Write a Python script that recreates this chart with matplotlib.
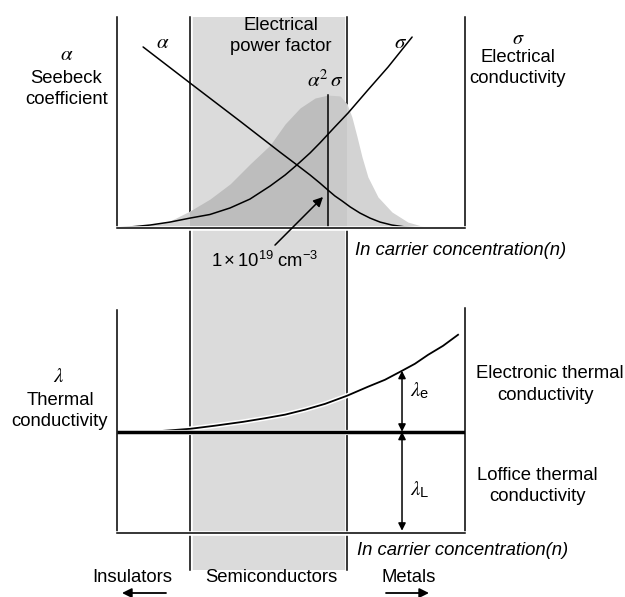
import numpy as np
import matplotlib
matplotlib.use('Agg')
import matplotlib.pyplot as plt
from matplotlib.patches import Rectangle
from matplotlib.lines import Line2D
import matplotlib.patheffects as pe
import matplotlib.transforms as mtrans

plt.rcParams['font.family'] = ['Liberation Sans', 'DejaVu Sans']
plt.rcParams['mathtext.fontset'] = 'stix'

# ---------------- data (ln n on an arbitrary 0-100 scale, property 0-100) ----------------
class_bounds = [21.0, 66.1]          # insulators | semiconductors | metals

alpha_n = [7.5, 21.0, 35.3, 46.8, 51.7, 55.5, 58.3, 60.6, 62.6, 64.7, 67.0, 69.8, 72.7, 75.6, 79.0, 82.8, 86.5]
alpha_v = [85.8, 68.7, 50.7, 36.0, 29.9, 25.1, 21.3, 18.0, 15.2, 12.8, 10.0, 7.1, 4.7, 2.8, 1.4, 0.5, 0.0]

sigma_n = [0.0, 5.2, 9.5, 15.2, 21.0, 26.7, 32.5, 38.2, 44.0, 48.3, 51.7, 55.5, 58.3, 62.6, 66.4, 72.1, 77.9, 84.8]
sigma_v = [0.0, 0.7, 1.4, 2.8, 4.7, 6.4, 9.5, 13.7, 19.9, 25.1, 29.9, 35.6, 40.3, 47.9, 54.5, 65.4, 76.3, 90.5]

pf_n = [2.3, 9.5, 15.2, 21.0, 26.7, 32.5, 38.2, 44.0, 48.3, 52.6, 56.9, 60.6, 64.1, 66.1, 67.5, 69.0,
        70.4, 72.1, 75.0, 79.0, 83.6, 88.5, 94.3]
pf_v = [0.0, 1.4, 3.3, 8.1, 13.7, 20.9, 30.3, 39.3, 49.3, 56.9, 61.6, 63.0, 62.6, 58.8, 52.6, 43.1,
        33.7, 24.2, 14.7, 7.6, 2.8, 0.5, 0.0]

lam_n = [3.7, 12.4, 21.0, 28.2, 36.2, 42.5, 48.3, 54.0, 59.8, 66.1, 72.1, 77.0, 81.9, 85.6, 89.4, 93.7, 98.0]
lam_e = [0.0, 0.3, 1.3, 2.7, 4.4, 6.0, 7.6, 9.8, 12.4, 16.0, 20.0, 23.1, 27.1, 30.2, 34.2, 38.2, 43.1]
lam_L = 45.0
n_arrow = 81.9                       # where lambda_e / lambda_L are marked
n_1e19 = 59.2                        # 1e19 cm^-3 pointer

# ---------------- figure ----------------
W, H = 625, 597
fig = plt.figure(figsize=(W / 100, H / 100), dpi=100)

bg = fig.add_axes([0, 0, 1, 1], zorder=0)
bg.set_xlim(0, W)
bg.set_ylim(H, 0)
bg.axis('off')

ax_top = fig.add_axes([117 / W, 1 - 228 / H, 348 / W, 211 / H], zorder=1)
ax_bot = fig.add_axes([117 / W, 1 - 533 / H, 348 / W, 225 / H], zorder=1)
for ax in (ax_top, ax_bot):
    ax.set_xlim(0, 100)
    ax.set_ylim(0, 100)
    ax.patch.set_alpha(0)
    ax.set_xticks([])
    ax.set_yticks([])
    for s in ax.spines.values():
        s.set_visible(False)


def halo(lw, extra=2.2):
    return [pe.Stroke(linewidth=lw + extra, foreground='white'), pe.Normal()]


LW = 1.1

# gray semiconductor band (x from data, y in pixels)
blend = mtrans.blended_transform_factory(ax_top.transData, bg.transData)
bg.add_patch(Rectangle((class_bounds[0], 17), class_bounds[1] - class_bounds[0], 553,
                       transform=blend, facecolor='#dbdbdb', edgecolor='none', zorder=0))
for b in class_bounds:
    bg.add_line(Line2D([b, b], [17, 570], transform=blend, color='black', lw=LW,
                       path_effects=halo(LW), zorder=2))

# ---------------- top panel ----------------
i_pk = int(np.argmax(pf_v))
n_pk = pf_n[i_pk]
regions = [(-10, class_bounds[0], '#d2d2d2'),
           (class_bounds[0], n_pk, '#bdbdbd'),
           (n_pk, class_bounds[1], '#c9c9c9'),
           (class_bounds[1], 110, '#d3d3d3')]
for x0, x1, col in regions:
    poly = ax_top.fill_between(pf_n, 0, pf_v, color=col, lw=0, zorder=1)
    clip = Rectangle((x0, -10), x1 - x0, 200, transform=ax_top.transData)
    poly.set_clip_path(clip)

ax_top.plot([n_pk, n_pk], [0, pf_v[i_pk]], color='black', lw=LW, zorder=3)
ax_top.plot(alpha_n, alpha_v, color='black', lw=LW, zorder=3, solid_capstyle='round')
ax_top.plot(sigma_n, sigma_v, color='black', lw=LW, zorder=3, solid_capstyle='round')

for ax, top in ((ax_top, 1.0), (ax_bot, 0.99)):
    ax.plot([0, 0], [0, top], transform=ax.transAxes, color='black', lw=LW, clip_on=False, zorder=5)
    ax.plot([1, 1], [0, 1.0], transform=ax.transAxes, color='black', lw=LW, clip_on=False, zorder=5)
    ax.plot([0, 1], [0, 0], transform=ax.transAxes, color='black', lw=LW, clip_on=False,
            path_effects=halo(LW), zorder=5)

ax_top.annotate('', xy=(n_1e19, 14.7), xytext=(45.4, -8.1), annotation_clip=False,
                arrowprops=dict(arrowstyle='-|>', color='black', lw=LW, mutation_scale=14,
                                shrinkA=0, shrinkB=0), zorder=5)

# ---------------- bottom panel ----------------
lam_tot = [lam_L + e for e in lam_e]
ax_bot.plot(lam_n, lam_tot, color='black', lw=1.3, path_effects=halo(1.3), zorder=3)
ax_bot.plot([0, 100], [lam_L, lam_L], color='black', lw=2.5, path_effects=halo(2.5, 1.2),
            zorder=4, solid_capstyle='butt')
i_a = lam_n.index(n_arrow)
dbl = dict(arrowstyle='<|-|>', color='black', lw=LW, mutation_scale=11, shrinkA=0, shrinkB=0)
ax_bot.annotate('', xy=(n_arrow, lam_tot[i_a]), xytext=(n_arrow, lam_L), arrowprops=dbl, zorder=6)
ax_bot.annotate('', xy=(n_arrow, 1.0), xytext=(n_arrow, lam_L), arrowprops=dbl, zorder=6)

# ---------------- texts ----------------
FS = 13.3


def T(x, y, s, ha='center', fs=FS, **kw):
    fig.text(x / W, 1 - y / H, s, ha=ha, va='baseline', fontsize=fs, **kw)


T(66.5, 60, r'$\alpha$', fs=15)
T(66.5, 83, 'Seebeck')
T(66.5, 104.5, 'coefficient')
T(163, 48, r'$\alpha$', fs=15)
T(281, 29.5, 'Electrical')
T(281, 51, 'power factor')
T(401, 48, r'$\sigma$', fs=15)
T(325, 87, r'$\alpha^2\,\sigma$', fs=15)
T(518, 44.5, r'$\sigma$', fs=14.5)
T(518, 62, 'Electrical')
T(518, 83, 'conductivity')
T(264.5, 267, r'$\mathregular{1\times10^{19}\ cm^{-3}}$')
T(355, 255, 'In carrier concentration(n)', ha='left', fontstyle='italic')

T(59, 382, r'$\lambda$', fs=15)
T(60, 405, 'Thermal')
T(60, 426, 'conductivity')
T(550, 378, 'Electronic thermal')
T(546, 400, 'conductivity')
T(537, 480, 'Loffice thermal')
T(537, 501, 'conductivity')
T(410, 396, r'$\lambda_{\mathregular{e}}$', ha='left', fs=15)
T(410, 495, r'$\lambda_{\mathregular{L}}$', ha='left', fs=15)
T(357, 555, 'In carrier concentration(n)', ha='left', fontstyle='italic')

T(132, 582, 'Insulators')
T(271, 582, 'Semiconductors')
T(409, 582, 'Metals')

arr = dict(arrowstyle='-|>', color='black', lw=1.3, mutation_scale=14, shrinkA=0, shrinkB=0)
bg.annotate('', xy=(122, 593), xytext=(166, 593), arrowprops=arr)
bg.annotate('', xy=(429, 593), xytext=(386, 593), arrowprops=arr)

fig.savefig('out.png', dpi=100, facecolor='white')
